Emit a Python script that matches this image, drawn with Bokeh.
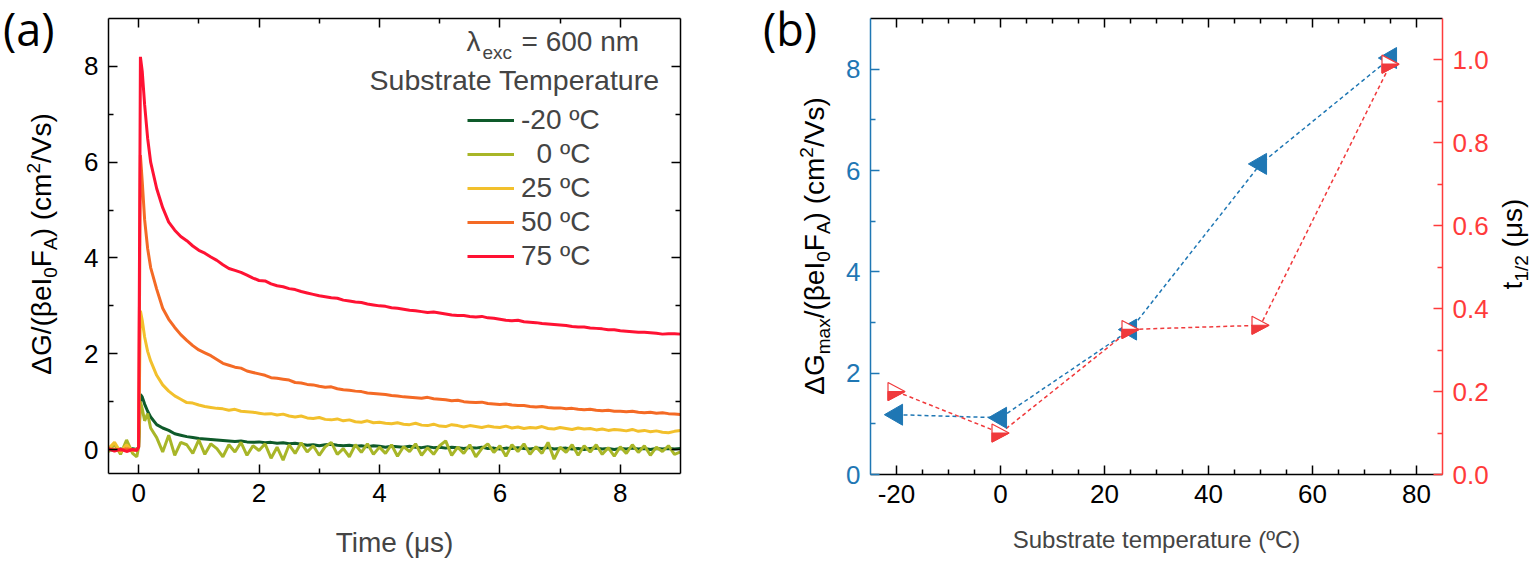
import math
from bokeh.plotting import figure
from bokeh.models import (Range1d, LinearAxis, FixedTicker, Label, Legend,
                          LegendItem, NumeralTickFormatter, Div)
from bokeh.layouts import row
from bokeh.embed import file_html
from bokeh.resources import INLINE

# ---------------- data : panel (a) ----------------
t_us = ([-0.5, -0.4, -0.3, -0.2, -0.1, -0.03, 0.0, 0.03, 0.06, 0.1, 0.15, 0.2,
         0.3, 0.4, 0.5, 0.6, 0.7, 0.8, 0.9,
         1.0, 1.1, 1.2, 1.3, 1.4, 1.5, 1.6, 1.7, 1.8, 1.9,
         2.0, 2.1, 2.2, 2.3, 2.4, 2.5, 2.6, 2.7, 2.8, 2.9,
         3.0, 3.1, 3.2, 3.3, 3.4, 3.5, 3.6, 3.7, 3.8, 3.9,
         4.0, 4.1, 4.2, 4.3, 4.4, 4.5, 4.6, 4.7, 4.8, 4.9,
         5.0, 5.1, 5.2, 5.3, 5.4, 5.5, 5.6, 5.7, 5.8, 5.9,
         6.0, 6.1, 6.2, 6.3, 6.4, 6.5, 6.6, 6.7, 6.8, 6.9,
         7.0, 7.1, 7.2, 7.3, 7.4, 7.5, 7.6, 7.7, 7.8, 7.9,
         8.0, 8.1, 8.2, 8.3, 8.4, 8.5, 8.6, 8.7, 8.8, 8.9,
         9.0])

y_m20 = ([0.00, -0.02, 0.01, -0.01, 0.02, 0.00, 0.05, 1.15, 1.10, 0.95, 0.80, 0.68,
          0.52, 0.45, 0.40, 0.33, 0.30, 0.27, 0.25,
          0.23, 0.22, 0.21, 0.20, 0.19, 0.18, 0.17, 0.18, 0.16, 0.15,
          0.16, 0.14, 0.15, 0.13, 0.14, 0.12, 0.13, 0.11, 0.09, 0.10,
          0.08, 0.10, 0.11, 0.09, 0.08, 0.09, 0.07, 0.08, 0.06, 0.08,
          0.07, 0.05, 0.07, 0.06, 0.05, 0.07, 0.05, 0.04, 0.06, 0.04,
          0.05, 0.03, 0.05, 0.04, 0.02, 0.04, 0.03, 0.05, 0.02, 0.03,
          0.01, 0.03, 0.02, 0.04, 0.02, 0.01, 0.03, 0.02, 0.04, 0.01,
          0.02, 0.03, 0.01, 0.02, 0.00, 0.02, 0.03, 0.01, 0.02, 0.00,
          0.02, 0.01, 0.03, 0.01, 0.02, 0.00, 0.02, 0.01, 0.02, 0.01,
          0.02])

y_0 = ([-0.05, 0.12, -0.10, 0.20, -0.08, -0.15, 0.05, 1.00, 0.85, 0.60, 0.75, 0.45,
        0.25, -0.05, 0.30, -0.12, 0.15, 0.10, -0.08,
        0.20, -0.10, 0.12, 0.02, -0.15, 0.10, -0.05, 0.15, -0.12, 0.08,
        -0.02, 0.12, -0.18, 0.05, -0.22, 0.10, -0.08, 0.14, -0.05, 0.08,
        -0.12, 0.06, 0.15, -0.10, 0.02, -0.15, 0.10, -0.06, 0.12, -0.10,
        0.05, -0.08, 0.10, -0.14, 0.06, -0.04, 0.12, -0.12, 0.04, -0.10,
        0.08, 0.18, -0.12, 0.05, -0.08, 0.10, -0.15, 0.02, 0.12, -0.06,
        0.08, -0.14, 0.10, -0.04, 0.12, -0.10, 0.06, -0.08, 0.15, -0.20,
        0.05, -0.06, 0.10, -0.12, 0.08, -0.05, 0.10, -0.10, 0.04, -0.14,
        0.06, -0.08, 0.10, -0.06, 0.08, -0.12, 0.05, -0.04, 0.08, -0.10,
        -0.05])

y_25 = ([0.02, 0.15, -0.05, 0.10, -0.03, 0.00, 0.05, 2.90, 2.70, 2.35, 2.05, 1.85,
         1.55, 1.35, 1.22, 1.12, 1.05, 0.98, 0.97,
         0.93, 0.90, 0.88, 0.86, 0.85, 0.82, 0.84, 0.80, 0.79, 0.78,
         0.76, 0.74, 0.75, 0.72, 0.74, 0.70, 0.68, 0.70, 0.66, 0.65,
         0.67, 0.63, 0.62, 0.64, 0.60, 0.62, 0.58, 0.57, 0.60, 0.56,
         0.57, 0.55, 0.54, 0.56, 0.53, 0.52, 0.55, 0.51, 0.50, 0.53,
         0.49, 0.48, 0.52, 0.50, 0.47, 0.50, 0.48, 0.46, 0.49, 0.47,
         0.46, 0.49, 0.45, 0.47, 0.44, 0.46, 0.45, 0.48, 0.44, 0.43,
         0.46, 0.44, 0.42, 0.45, 0.43, 0.44, 0.41, 0.43, 0.40, 0.42,
         0.41, 0.39, 0.42, 0.38, 0.40, 0.37, 0.39, 0.36, 0.35, 0.38,
         0.40])

y_50 = ([0.00, 0.01, -0.02, 0.02, -0.01, 0.00, 0.05, 6.15, 5.60, 4.80, 4.20, 3.80,
         3.35, 2.95, 2.72, 2.55, 2.40, 2.28, 2.17,
         2.08, 2.02, 1.96, 1.88, 1.80, 1.76, 1.72, 1.70, 1.64, 1.61,
         1.58, 1.55, 1.50, 1.49, 1.47, 1.45, 1.40, 1.39, 1.36, 1.35,
         1.32, 1.30, 1.31, 1.27, 1.25, 1.24, 1.22, 1.21, 1.18, 1.17,
         1.16, 1.15, 1.13, 1.12, 1.10, 1.09, 1.08, 1.07, 1.09, 1.06,
         1.05, 1.04, 1.02, 1.03, 1.00, 0.99, 0.98, 0.99, 0.96, 0.95,
         0.94, 0.95, 0.93, 0.92, 0.92, 0.90, 0.89, 0.90, 0.88, 0.87,
         0.87, 0.85, 0.86, 0.84, 0.83, 0.84, 0.82, 0.81, 0.82, 0.80,
         0.80, 0.79, 0.80, 0.78, 0.77, 0.78, 0.76, 0.77, 0.75, 0.74,
         0.73])

y_75 = ([0.02, -0.03, 0.01, -0.04, 0.00, -0.02, 0.05, 8.20, 7.90, 7.20, 6.50, 6.00,
         5.45, 5.05, 4.75, 4.58, 4.45, 4.36, 4.25,
         4.16, 4.10, 4.02, 3.95, 3.86, 3.78, 3.74, 3.70, 3.64, 3.58,
         3.53, 3.52, 3.46, 3.42, 3.40, 3.36, 3.34, 3.30, 3.27, 3.24,
         3.21, 3.19, 3.17, 3.16, 3.12, 3.10, 3.08, 3.07, 3.04, 3.02,
         3.00, 2.99, 2.96, 2.95, 2.93, 2.91, 2.90, 2.88, 2.86, 2.87,
         2.85, 2.83, 2.81, 2.80, 2.80, 2.78, 2.77, 2.78, 2.75, 2.74,
         2.72, 2.70, 2.69, 2.70, 2.67, 2.66, 2.65, 2.63, 2.62, 2.61,
         2.60, 2.59, 2.57, 2.56, 2.56, 2.54, 2.53, 2.52, 2.50, 2.50,
         2.48, 2.47, 2.46, 2.45, 2.45, 2.44, 2.43, 2.41, 2.42, 2.42,
         2.41])

series_labels = ["-20 ºC", "\u00a0\u00a00 ºC", "25 ºC", "50 ºC", "75 ºC"]
series_colors = ["#0e5a2a", "#a8b628", "#f2c02c", "#f46a25", "#ff1233"]

a_xticks = [0, 2, 4, 6, 8]
a_xminor = [1, 3, 5, 7]
a_yticks = [0, 2, 4, 6, 8]
a_yminor = [1, 3, 5, 7]

# ---------------- data : panel (b) ----------------
temps = [-20, 0, 25, 50, 75]
dg_max = [1.18, 1.12, 2.86, 6.13, 8.22]
t_half = [0.20, 0.10, 0.35, 0.36, 0.99]

b_xticks = [-20, 0, 20, 40, 60, 80]
b_xminor = [-15, -10, -5, 5, 10, 15, 25, 30, 35, 45, 50, 55, 65, 70, 75]
b_yticks = [0, 2, 4, 6, 8]
b_yminor = [1, 3, 5, 7]
b_rticks = [0.0, 0.2, 0.4, 0.6, 0.8, 1.0]
b_rminor = [0.1, 0.3, 0.5, 0.7, 0.9]

# ---------------- helpers ----------------
FONT = "Liberation Sans"
BLUE = "#1f77b4"
RED = "#f03a3c"
RED_AX = "#ff3b3b"
H = 560            # height of every block in the row
TOP = 18           # frame top border

SUB = "<sub style=\"font-size:19px;line-height:0;vertical-align:-6px\">{}</sub>"
SUP = "<sup style=\"font-size:19px;line-height:0;vertical-align:11px\">{}</sup>"


def side_text(width, pieces_html, cx, cy, panel_tag=None):
    """An HTML strip holding a rotated (bottom-to-top) axis title and a panel tag."""
    parts = [f"<div style=\"position:relative;width:{width}px;height:{H}px;"
             "overflow:visible;\">"]
    if panel_tag:
        parts.append("<div style=\"position:absolute;left:3px;top:4px;"
                     "font-family:'Open Sans';font-size:45px;line-height:1.1;"
                     f"white-space:nowrap;color:#000;\">{panel_tag}</div>")
    parts.append(f"<div style=\"position:absolute;left:{cx}px;top:{cy}px;"
                 "transform:translate(-50%,-50%) rotate(-90deg);"
                 f"font-family:'{FONT}';font-size:28px;line-height:1;"
                 f"white-space:nowrap;color:#000;\">{pieces_html}</div>")
    parts.append("</div>")
    return Div(text="".join(parts), width=width, height=H, margin=0)


def style_axis(ax, color, size="26px", labels=True, ticks=None):
    ax.axis_line_color = color
    ax.axis_line_width = 1.5
    ax.major_tick_line_color = color
    ax.minor_tick_line_color = color
    ax.major_tick_line_width = 1.5
    ax.minor_tick_line_width = 1.5
    ax.major_tick_in = 9
    ax.major_tick_out = 0
    ax.minor_tick_in = 5
    ax.minor_tick_out = 0
    ax.major_label_text_font = FONT
    ax.major_label_text_color = color
    if labels:
        ax.major_label_text_font_size = size
        ax.major_label_standoff = 10
    else:
        ax.major_label_overrides = {v: "" for v in ticks}
        ax.major_label_text_font_size = "0px"
        ax.major_label_standoff = 0


# ---------------- panel (a) ----------------
la = side_text(68, "ΔG/(βeI" + SUB.format("0") + "F" + SUB.format("A") +
               ") (cm" + SUP.format("2") + "/Vs)", 42, 244, "(a)")

p1 = figure(frame_width=572, frame_height=455,
            x_range=Range1d(-0.5, 9), y_range=Range1d(-0.5, 9),
            min_border_left=40, min_border_right=80, min_border_top=TOP,
            min_border_bottom=H - TOP - 455, output_backend="svg",
            toolbar_location=None)
p1.xgrid.visible = False
p1.ygrid.visible = False
p1.outline_line_color = None

p1.xaxis.ticker = FixedTicker(ticks=a_xticks, minor_ticks=a_xminor)
p1.yaxis.ticker = FixedTicker(ticks=a_yticks, minor_ticks=a_yminor)
style_axis(p1.xaxis[0], "black")
style_axis(p1.yaxis[0], "black")
p1.xaxis.axis_label = "Time (μs)"
p1.xaxis.axis_label_text_font = FONT
p1.xaxis.axis_label_text_font_size = "28px"
p1.xaxis.axis_label_text_font_style = "normal"
p1.xaxis.axis_label_standoff = 22

ax_top = LinearAxis(ticker=FixedTicker(ticks=a_xticks, minor_ticks=a_xminor))
style_axis(ax_top, "black", labels=False, ticks=a_xticks)
p1.add_layout(ax_top, "above")
ax_right = LinearAxis(ticker=FixedTicker(ticks=a_yticks, minor_ticks=a_yminor))
style_axis(ax_right, "black", labels=False, ticks=a_yticks)
p1.add_layout(ax_right, "right")

renderers = []
for ys, col in zip([y_m20, y_0, y_25, y_50, y_75], series_colors):
    renderers.append(p1.line(t_us, ys, line_color=col, line_width=3))

legend = Legend(items=[LegendItem(label=lab, renderers=[r])
                       for lab, r in zip(series_labels, renderers)],
                location=(359, 201), border_line_color=None,
                background_fill_alpha=0, padding=0, margin=0, spacing=2,
                glyph_width=47, glyph_height=20, label_standoff=7,
                label_text_font=FONT, label_text_font_size="28px",
                label_height=20)
p1.add_layout(legend)

# header text of the legend (offsets in pixels from the frame's lower-left corner)
p1.add_layout(Label(x=-0.5, y=-0.5, x_offset=358, y_offset=417, text="λ",
                    text_font=FONT, text_font_size="28px"))
p1.add_layout(Label(x=-0.5, y=-0.5, x_offset=374, y_offset=411, text="exc",
                    text_font=FONT, text_font_size="19px"))
p1.add_layout(Label(x=-0.5, y=-0.5, x_offset=413, y_offset=417, text="= 600 nm",
                    text_font=FONT, text_font_size="28px"))
p1.add_layout(Label(x=-0.5, y=-0.5, x_offset=551, y_offset=378,
                    text="Substrate Temperature", text_align="right",
                    text_font=FONT, text_font_size="28.5px"))

# ---------------- panel (b) ----------------
lb = side_text(80, "ΔG" + SUB.format("max") + "/(βeI" + SUB.format("0") + "F" +
               SUB.format("A") + ") (cm" + SUP.format("2") + "/Vs)", 55, 246, "(b)")

p2 = figure(frame_width=572, frame_height=456,
            x_range=Range1d(-25, 85), y_range=Range1d(0, 9),
            min_border_left=30, min_border_right=50, min_border_top=TOP,
            min_border_bottom=H - TOP - 456, output_backend="svg",
            toolbar_location=None)
p2.extra_y_ranges = {"t": Range1d(0, 1.1)}
p2.xgrid.visible = False
p2.ygrid.visible = False
p2.outline_line_color = None

p2.xaxis.ticker = FixedTicker(ticks=b_xticks, minor_ticks=b_xminor)
p2.yaxis.ticker = FixedTicker(ticks=b_yticks, minor_ticks=b_yminor)
style_axis(p2.xaxis[0], "black")
p2.xaxis.major_label_overrides = {-20: "-20"}
style_axis(p2.yaxis[0], BLUE)
p2.xaxis.axis_label = "Substrate temperature (ºC)"
p2.xaxis.axis_label_text_font = FONT
p2.xaxis.axis_label_text_font_size = "24px"
p2.xaxis.axis_label_text_font_style = "normal"
p2.xaxis.axis_label_standoff = 20

bx_top = LinearAxis(ticker=FixedTicker(ticks=b_xticks, minor_ticks=b_xminor))
style_axis(bx_top, "black", labels=False, ticks=b_xticks)
p2.add_layout(bx_top, "above")
by_right = LinearAxis(y_range_name="t",
                      ticker=FixedTicker(ticks=b_rticks, minor_ticks=b_rminor),
                      formatter=NumeralTickFormatter(format="0.0"))
style_axis(by_right, RED_AX)
p2.add_layout(by_right, "right")

# dashed connecting lines
p2.line(temps, dg_max, line_color=BLUE, line_width=1.5, line_dash="4 3")
p2.line(temps, t_half, line_color=RED, line_width=1.5, line_dash="4 3",
        y_range_name="t")

# blue left-pointing filled triangles
p2.scatter(temps, dg_max, marker="triangle", size=21, angle=math.pi / 2,
           fill_color=BLUE, line_color=BLUE)

# red right-pointing half-filled triangles (marker size given in screen pixels)
dxpp = (85 - (-25)) / 572.0
dypp = 1.1 / 456.0
hw, hh = 8.5, 9.0
xs_full = [[x - hw * dxpp, x - hw * dxpp, x + hw * dxpp] for x in temps]
ys_full = [[y + hh * dypp, y - hh * dypp, y] for y in t_half]
ys_low = [[y, y - hh * dypp, y] for y in t_half]
p2.patches(xs_full, ys_full, fill_color="white", line_color=RED, line_width=1.2,
           y_range_name="t")
p2.patches(xs_full, ys_low, fill_color=RED, line_color=RED, line_width=1.2,
           y_range_name="t")

rb = side_text(44, "t" + SUB.format("1/2") + " (μs)", 21, 244)

layout = row(la, p1, lb, p2, rb)
open("out.html", "w").write(file_html(layout, INLINE))
